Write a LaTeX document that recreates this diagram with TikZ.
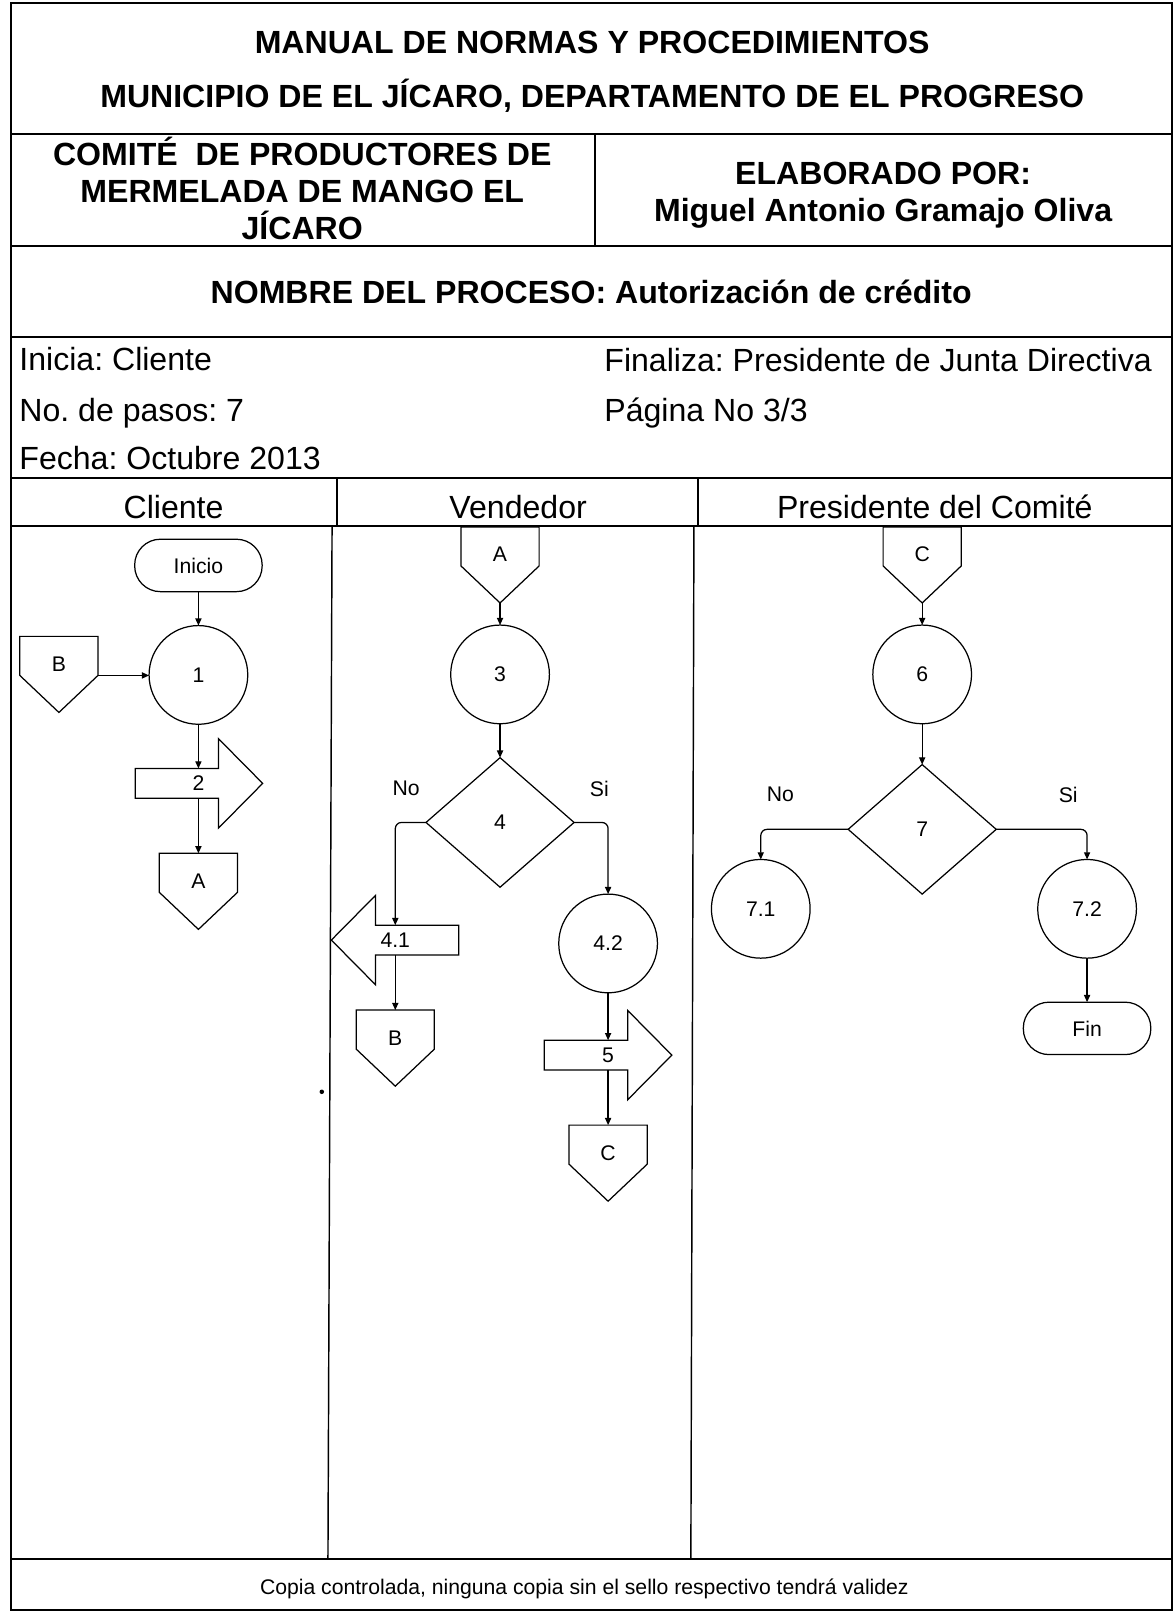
\documentclass[tikz,border=0pt]{standalone}
\usepackage{fontspec}
\setmainfont{Liberation Sans}
\usetikzlibrary{shapes.geometric,arrows.meta,calc}
\newcommand{\myTitleFont}{\fontsize{15.6pt}{18pt}\selectfont\bfseries\frenchspacing}
\newcommand{\myTextFont}{\fontsize{15.6pt}{18pt}\selectfont\frenchspacing}
\newcommand{\myFlowFont}{\fontsize{10.3pt}{12pt}\selectfont\frenchspacing}
\tikzset{
  frameline/.style={line width=1pt},
  laneline/.style={line width=0.7pt},
  shp/.style={draw, line width=0.6pt, inner sep=0pt, outer sep=0pt, font=\myFlowFont},
  proc/.style={shp, circle, minimum size=48pt},
  term/.style={shp, rectangle, rounded corners=12.5pt, minimum width=62pt, minimum height=25.5pt},
  dec/.style={shp, diamond, minimum width=72pt, minimum height=63pt},
  opc/.style={inner sep=0pt, outer sep=0pt, minimum width=38pt, minimum height=27pt, font=\myFlowFont, anchor=north},
  shaft/.style={inner sep=0pt, outer sep=0pt, minimum width=40.5pt, minimum height=14.5pt},
  lbl/.style={inner sep=0pt, font=\myFlowFont},
  flow/.style={line width=0.6pt, -{Triangle[length=3.5pt,width=3pt]}},
  olin/.style={line width=0.6pt, line join=miter},
  ttl/.style={font=\myTitleFont, anchor=base, inner sep=0pt},
  txt/.style={font=\myTextFont, anchor=base, inner sep=0pt},
}
% off-page connector: name, top-centre position, label
\newcommand{\offpg}[3]{%
  \node[opc] (#1) at (#2) {#3};
  \draw[olin] (#1.north west) -- (#1.north east) -- ($(#1.north east)+(0,38)$) coordinate (#1-r)
     -- ($(#1.north)+(0,74)$) coordinate (#1-tip) -- ($(#1.north west)+(0,38)$) coordinate (#1-l) -- cycle;
}
% block arrows around a shaft node
\newcommand{\barR}[1]{%
  \draw[olin] (#1.north west) -- (#1.north east) -- ($(#1.north east)+(0,-29)$) -- ($(#1.east)+(43,0)$)
     -- ($(#1.south east)+(0,29)$) -- (#1.south east) -- (#1.south west) -- cycle;}
\newcommand{\barL}[1]{%
  \draw[olin] (#1.north east) -- (#1.north west) -- ($(#1.north west)+(0,-29)$) -- ($(#1.west)+(-43,0)$)
     -- ($(#1.south west)+(0,29)$) -- (#1.south west) -- (#1.south east) -- cycle;}
\begin{document}
\frenchspacing
\begin{tikzpicture}[x=0.5pt,y=-0.5pt]
\useasboundingbox (0,0) rectangle (1143,1568);
% ---------- frame ----------
\draw[frameline] (10.5,3) rectangle (1140,1566);
\draw[frameline] (10.5,130.5) -- (1140,130.5);
\draw[frameline] (10.5,239.5) -- (1140,239.5);
\draw[frameline] (10.5,327.5) -- (1140,327.5);
\draw[frameline] (10.5,465) -- (1140,465);
\draw[frameline] (10.5,511.5) -- (1140,511.5);
\draw[frameline] (10.5,1516) -- (1140,1516);
\draw[frameline] (579,130.5) -- (579,239.5);
\draw[laneline] (328,465) -- (328,511.5);
\draw[laneline] (679,465) -- (679,511.5);
\draw[laneline] (323,511.5) -- (319,1516);
\draw[laneline] (675,511.5) -- (672,1516);
% ---------- header texts ----------
\node[ttl] (h1) at (576,52) {MANUAL DE NORMAS Y PROCEDIMIENTOS};
\node[ttl] (h2) at (576,104.7) {MUNICIPIO DE EL JÍCARO, DEPARTAMENTO DE EL PROGRESO};
\node[ttl] (h3a) at (294,161) {COMITÉ\ \ DE PRODUCTORES DE};
\node[ttl] (h3b) at (294,197) {MERMELADA DE MANGO EL};
\node[ttl] (h3c) at (294,232.5) {JÍCARO};
\node[ttl] (h4a) at (859,179) {ELABORADO POR:};
\node[ttl] (h4b) at (859,215) {Miguel Antonio Gramajo Oliva};
\node[ttl] (h5) at (575,295) {NOMBRE DEL PROCESO: Autorización de crédito};
\node[txt, anchor=base west] (i1) at (18.5,360.5) {Inicia: Cliente};
\node[txt, anchor=base west] (i2) at (18.5,410) {No. de pasos: 7};
\node[txt, anchor=base west] (i3) at (18.5,457) {Fecha: Octubre 2013};
\node[txt, anchor=base west] (i4) at (587.5,361.5) {Finaliza: Presidente de Junta Directiva};
\node[txt, anchor=base west] (i5) at (587.5,410) {Página No 3/3};
\node[txt] (l1) at (168.8,504) {Cliente};
\node[txt] (l2) at (504,504) {Vendedor};
\node[txt] (l3) at (909.3,504) {Presidente del Comité};
\node[font=\myFlowFont, anchor=base, inner sep=0pt] (foot) at (568.4,1550.5)
  {Copia controlada, ninguna copia sin el sello respectivo tendrá validez};
% ---------- lane: Cliente ----------
\node[term] (ini) at (193,550) {Inicio};
\node[proc] (c1) at (193,656.5) {1};
\offpg{cB1}{57.3,619}{B}
\node[shaft] (s2) at (172,762) {};
\barR{s2}
\node[lbl] (t2) at (193,762) {2};
\offpg{cA1}{193,830}{A}
\draw[flow] (ini.south) -- (c1.north);
\draw[flow] (cB1-r) -- (cB1-r -| c1.west);
\draw[flow] (c1.south) -- (c1 |- s2.north);
\draw[flow] (t2 |- s2.south) -- (cA1.north);
% ---------- lane: Vendedor ----------
\offpg{cA2}{486.4,512.5}{A}
\node[proc] (c3) at (486.4,656) {3};
\node[dec] (d4) at (486.4,800) {4};
\node[lbl] (no4) at (395,767) {No};
\node[lbl] (si4) at (583,767) {Si};
\node[shaft] (s41) at (405.8,914.4) {};
\barL{s41}
\node[lbl] (t41) at (384.5,914.4) {4.1};
\offpg{cB2}{384.5,982.5}{B}
\node[proc] (c42) at (591.5,917.7) {4.2};
\node[shaft] (s5) at (570,1026.3) {};
\barR{s5}
\node[lbl] (t5) at (591.5,1026.3) {5};
\offpg{cC1}{591.5,1094.4}{C}
\draw[flow] (cA2-tip) -- (c3.north);
\draw[flow] (c3.south) -- (d4.north);
\draw[flow, rounded corners=3pt] (d4.west) -| (t41 |- s41.north);
\draw[flow, rounded corners=3pt] (d4.east) -| (c42.north);
\draw[flow] (t41 |- s41.south) -- (cB2.north);
\draw[flow] (c42.south) -- (t5 |- s5.north);
\draw[flow] (t5 |- s5.south) -- (cC1.north);
% ---------- lane: Presidente del Comite ----------
\offpg{cC2}{897,512.5}{C}
\node[proc] (c6) at (897,656) {6};
\node[dec] (d7) at (897,806.7) {7};
\node[lbl] (no7) at (759,773) {No};
\node[lbl] (si7) at (1039,773) {Si};
\node[proc] (c71) at (740,884) {7.1};
\node[proc] (c72) at (1057.4,884) {7.2};
\node[term] (fin) at (1057.4,1000.3) {Fin};
\draw[flow] (cC2-tip) -- (c6.north);
\draw[flow] (c6.south) -- (d7.north);
\draw[flow, rounded corners=3pt] (d7.west) -| (c71.north);
\draw[flow, rounded corners=3pt] (d7.east) -| (c72.north);
\draw[flow] (c72.south) -- (fin.north);
% scan speck
\fill (313,1062) circle (1.1pt);
\end{tikzpicture}
\end{document}
